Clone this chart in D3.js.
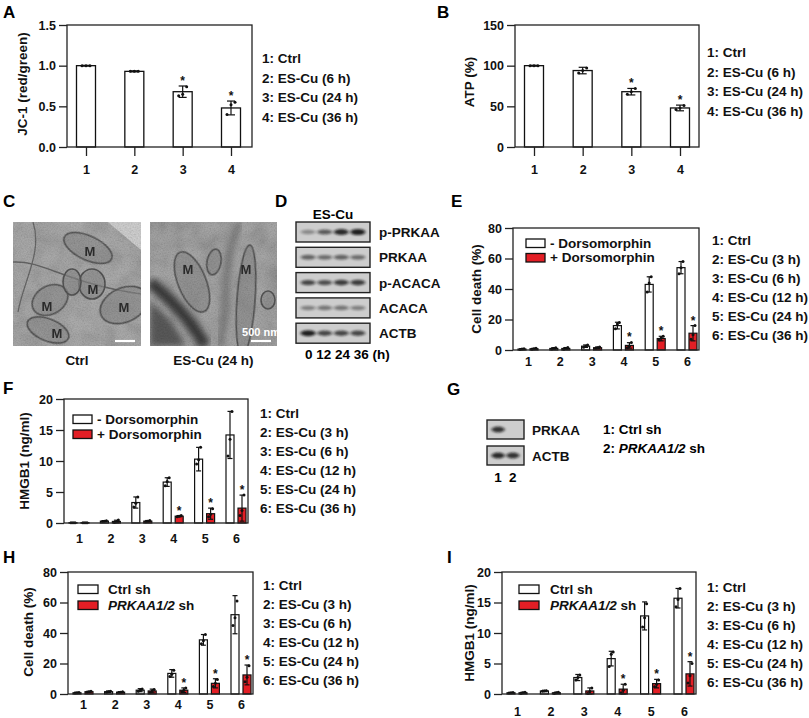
<!DOCTYPE html>
<html><head><meta charset="utf-8">
<script src="https://cdn.jsdelivr.net/npm/d3@7"></script>
<style>body{margin:0;background:#fff}</style>
</head><body>
<script>
// ================= DATA =================
const catsAB = ["1", "2", "3", "4"];
const legendAB = ["1: Ctrl", "2: ES-Cu (6 h)", "3: ES-Cu (24 h)", "4: ES-Cu (36 h)"];

const jc1Ticks = [0, 0.5, 1.0, 1.5];
const jc1Mean = [1.0, 0.93, 0.68, 0.48];
const jc1SD = [0.004, 0.006, 0.07, 0.085];
const jc1Pts = [[1, 1, 1], [0.93, 0.93, 0.93], [0.63, 0.65, 0.74], [0.40, 0.52, 0.55]];
const jc1Sig = [0, 0, 1, 1];

const atpTicks = [0, 50, 100, 150];
const atpMean = [100, 94, 68, 48];
const atpSD = [0.5, 4, 4, 3.5];
const atpPts = [[100, 100, 100], [91, 94, 97], [65, 68, 72], [46, 48, 51]];
const atpSig = [0, 0, 1, 1];

const cats6 = ["1", "2", "3", "4", "5", "6"];
const legend6 = ["1: Ctrl", "2: ES-Cu (3 h)", "3: ES-Cu (6 h)", "4: ES-Cu (12 h)", "5: ES-Cu (24 h)", "6: ES-Cu (36 h)"];
const ticks80 = [0, 20, 40, 60, 80];
const ticks20 = [0, 5, 10, 15, 20];

// E: cell death, -/+ Dorsomorphin
const eMinusMean = [0.6, 1.0, 2.5, 16, 43, 54];
const eMinusSD = [0.3, 0.5, 0.8, 2.2, 5, 4];
const eMinusPts = [[0.4, 0.6, 0.8], [0.6, 1.0, 1.4], [1.8, 2.5, 3.3], [14, 17, 18], [38, 44, 48], [50, 54, 58]];
const ePlusMean = [0.8, 1.0, 1.5, 3, 7.5, 11];
const ePlusSD = [0.3, 0.6, 0.5, 1.8, 1.5, 5];
const ePlusPts = [[0.5, 0.8, 1.1], [0.5, 1.0, 1.6], [1.0, 1.5, 2.0], [1.5, 2.5, 5], [6.5, 8, 9], [7, 10, 16]];
const ePlusSig = [0, 0, 0, 1, 1, 1];

// F: HMGB1, -/+ Dorsomorphin
const fMinusMean = [0.05, 0.3, 3.3, 6.6, 10.3, 14.2];
const fMinusSD = [0.02, 0.08, 0.9, 0.7, 1.9, 3.8];
const fMinusPts = [[0.05, 0.05, 0.05], [0.25, 0.3, 0.35], [2.6, 3.2, 4.2], [6.0, 6.7, 7.3], [9.5, 10.2, 12.2], [10.8, 13.5, 18.0]];
const fPlusMean = [0.05, 0.25, 0.3, 1.1, 1.5, 2.4];
const fPlusSD = [0.02, 0.2, 0.1, 0.1, 0.9, 2.1];
const fPlusPts = [[0.05, 0.05, 0.05], [0.1, 0.2, 0.5], [0.2, 0.3, 0.4], [1.0, 1.1, 1.2], [1.0, 1.4, 2.3], [1.2, 2.0, 4.5]];
const fPlusSig = [0, 0, 0, 1, 1, 1];

// H: cell death, Ctrl sh / PRKAA1/2 sh
const hCtrlMean = [0.8, 1.5, 2.5, 13.5, 35.5, 52];
const hCtrlSD = [0.3, 0.5, 1.0, 2.5, 3.5, 12.5];
const hCtrlPts = [[0.6, 0.8, 1.0], [1.2, 1.5, 1.8], [1.8, 2.5, 3.2], [11.5, 13, 15.5], [33, 35, 39], [45, 50, 61]];
const hShMean = [1.5, 1.2, 2.0, 2.5, 7, 12.5];
const hShSD = [0.3, 0.3, 1.2, 1.5, 3, 6.5];
const hShPts = [[1.2, 1.5, 1.8], [1.0, 1.2, 1.4], [1.0, 2.0, 3.0], [1.5, 2.5, 4], [5, 7, 9.5], [8, 11, 18.5]];
const hShSig = [0, 0, 0, 1, 1, 1];

// I: HMGB1, Ctrl sh / PRKAA1/2 sh
const iCtrlMean = [0.2, 0.5, 2.7, 5.8, 12.8, 15.7];
const iCtrlSD = [0.05, 0.1, 0.5, 1.2, 2.3, 1.6];
const iCtrlPts = [[0.15, 0.2, 0.25], [0.45, 0.5, 0.55], [2.3, 2.7, 3.1], [4.5, 6.5, 6.9], [11, 12.5, 14.8], [14.3, 15.5, 17.3]];
const iShMean = [0.2, 0.2, 0.5, 0.8, 1.7, 3.3];
const iShSD = [0.1, 0.1, 0.5, 0.8, 0.7, 2.0];
const iShPts = [[0.1, 0.2, 0.3], [0.1, 0.2, 0.3], [0.1, 0.4, 1.0], [0.2, 0.6, 1.6], [1.2, 1.6, 2.3], [1.8, 3.0, 5.0]];
const iShSig = [0, 0, 0, 1, 1, 1];

// Blots (relative band intensity per lane)
const blotDLanes = ["0", "12", "24", "36"];
const blotDLabels = ["p-PRKAA", "PRKAA", "p-ACACA", "ACACA", "ACTB"];
const blotDIntensity = [[0.35, 0.6, 0.85, 0.9], [0.55, 0.5, 0.55, 0.5], [0.7, 0.65, 0.75, 0.75], [0.4, 0.45, 0.45, 0.4], [0.9, 0.7, 0.7, 0.7]];
const blotGLanes = ["1", "2"];
const blotGLabels = ["PRKAA", "ACTB"];
const blotGIntensity = [[0.8, 0.0], [0.85, 0.8]];
const legendG = ["1: Ctrl sh", "2: PRKAA1/2 sh"];

// ================= DRAWING =================
const FONT = "'Liberation Sans', Arial, Helvetica, sans-serif";
const RED = "#e31e25";
const svg = d3.select("body").append("svg").attr("width", 809).attr("height", 718)
  .style("font-family", FONT).style("font-weight", "bold");

const defs = svg.append("defs");
const nf = defs.append("filter").attr("id", "emNoise").attr("x", 0).attr("y", 0).attr("width", "100%").attr("height", "100%");
nf.append("feTurbulence").attr("type", "fractalNoise").attr("baseFrequency", 0.7).attr("numOctaves", 3).attr("seed", 7);
nf.append("feColorMatrix").attr("type", "matrix").attr("values", "1 0 0 0 0.1  1 0 0 0 0.1  1 0 0 0 0.1  0 0 0 0 1");
const nf2 = defs.append("filter").attr("id", "emBlotch").attr("x", 0).attr("y", 0).attr("width", "100%").attr("height", "100%");
nf2.append("feTurbulence").attr("type", "fractalNoise").attr("baseFrequency", 0.06).attr("numOctaves", 2).attr("seed", 3);
nf2.append("feColorMatrix").attr("type", "matrix").attr("values", "1 0 0 0 0  1 0 0 0 0  1 0 0 0 0  0 0 0 0 1");
defs.append("filter").attr("id", "soft").append("feGaussianBlur").attr("stdDeviation", 0.7);
defs.append("filter").attr("id", "soft3").append("feGaussianBlur").attr("stdDeviation", 3);
defs.append("filter").attr("id", "bandBlur").attr("x", "-50%").attr("y", "-100%").attr("width", "200%").attr("height", "300%")
  .append("feGaussianBlur").attr("stdDeviation", "1.6 1.1");

function panelLetter(t, x, y) {
  svg.append("text").attr("x", x).attr("y", y).attr("font-size", 17).text(t);
}

function styleAxis(a, fs) {
  a.selectAll("text").attr("font-size", fs).attr("font-family", FONT).attr("font-weight", "bold").attr("fill", "#111");
  a.selectAll("line").attr("stroke", "#222").attr("stroke-width", 1.3);
}

function legendList(items, x, y0, dy) {
  svg.append("g").selectAll("text").data(items).join("text")
    .attr("x", x).attr("y", (d, i) => y0 + i * dy).attr("font-size", 13.5).attr("fill", "#111").text(d => d);
}

function yTitle(t, x, y) {
  svg.append("text").attr("transform", `translate(${x},${y}) rotate(-90)`).attr("text-anchor", "middle")
    .attr("font-size", 13.5).attr("fill", "#111").text(t);
}

function errAndPts(g, cx, y, mean, sd, pts, capW, jit, sig) {
  const top = y(mean + sd), bot = y(Math.max(0, mean - sd));
  g.append("line").attr("x1", cx).attr("x2", cx).attr("y1", top).attr("y2", bot).attr("stroke", "#111").attr("stroke-width", 1.2);
  [top, bot].forEach(yy => g.append("line").attr("x1", cx - capW / 2).attr("x2", cx + capW / 2).attr("y1", yy).attr("y2", yy)
    .attr("stroke", "#111").attr("stroke-width", 1.2));
  pts.forEach((p, k) => g.append("circle").attr("cx", cx + jit[k]).attr("cy", y(p)).attr("r", 1.5).attr("fill", "#111"));
  if (sig) {
    const ty = Math.min(top, y(d3.max(pts))) - 1;
    g.append("text").attr("x", cx).attr("y", ty).attr("text-anchor", "middle").attr("font-size", 12).attr("fill", "#111").text("*");
  }
}

function frameAndY(g, c, y) {
  g.append("rect").attr("x", c.left).attr("y", c.top).attr("width", c.right - c.left).attr("height", c.bottom - c.top)
    .attr("fill", "none").attr("stroke", "#222").attr("stroke-width", 1.3);
  const ya = g.append("g").attr("transform", `translate(${c.left},0)`)
    .call(d3.axisLeft(y).tickValues(c.ticks).tickFormat(c.fmt).tickSize(8).tickPadding(3));
  ya.select(".domain").remove();
  styleAxis(ya, 12.5);
}

function singlePanel(c) {
  const g = svg.append("g");
  const x = d3.scalePoint().domain(c.cats).range([c.left + c.padL, c.right - c.padR]);
  const y = d3.scaleLinear().domain([c.ticks[0], c.ticks[c.ticks.length - 1]]).range([c.bottom, c.top]);
  g.selectAll("rect.bar").data(c.mean).join("rect").attr("class", "bar")
    .attr("x", (d, i) => x(c.cats[i]) - c.bw / 2).attr("y", d => y(d)).attr("width", c.bw).attr("height", d => y(0) - y(d))
    .attr("fill", "#fff").attr("stroke", "#111").attr("stroke-width", 1.3);
  c.mean.forEach((m, i) => errAndPts(g, x(c.cats[i]), y, m, c.sd[i], c.pts[i], 8, [-4, 0, 4], c.sig[i]));
  frameAndY(g, c, y);
  const xa = g.append("g").attr("transform", `translate(0,${c.bottom})`).call(d3.axisBottom(x).tickSize(9).tickPadding(9));
  xa.select(".domain").remove();
  styleAxis(xa, 12.5);
  yTitle(c.yLabel, c.yTitleX, c.yTitleY);
  legendList(c.legend, c.legX, c.legY0, c.legDy);
}

function groupPanel(c) {
  const g = svg.append("g");
  const x = d3.scalePoint().domain(c.cats).range([c.left + 15, c.right - 12]);
  const y = d3.scaleLinear().domain([0, c.ticks[c.ticks.length - 1]]).range([c.bottom, c.top]);
  const bw = 8, off = 6;
  const series = [
    { mean: c.aMean, sd: c.aSD, pts: c.aPts, sig: c.aMean.map(() => 0), fill: "#fff", dx: -off },
    { mean: c.bMean, sd: c.bSD, pts: c.bPts, sig: c.bSig, fill: RED, dx: off }
  ];
  series.forEach(s => {
    g.append("g").selectAll("rect").data(s.mean).join("rect")
      .attr("x", (d, i) => x(c.cats[i]) + s.dx - bw / 2).attr("y", d => y(d)).attr("width", bw).attr("height", d => y(0) - y(d))
      .attr("fill", s.fill).attr("stroke", "#111").attr("stroke-width", 1.2);
    s.mean.forEach((m, i) => errAndPts(g, x(c.cats[i]) + s.dx, y, m, s.sd[i], s.pts[i], 5, [-2, 0, 2], s.sig[i]));
  });
  frameAndY(g, c, y);
  const xa = g.append("g").attr("transform", `translate(0,${c.bottom})`).call(d3.axisBottom(x).tickSize(0).tickPadding(c.xPad));
  xa.select(".domain").remove();
  styleAxis(xa, 12.5);
  yTitle(c.yLabel, c.yTitleX, c.yTitleY);
  legendList(legend6, c.legX, c.legY0, 19);
  const boxes = [{ fill: "#fff", y: c.lbY[0] }, { fill: RED, y: c.lbY[1] }];
  boxes.forEach((b, k) => {
    g.append("rect").attr("x", c.lbX).attr("y", b.y).attr("width", c.lbW).attr("height", 8.5)
      .attr("fill", b.fill).attr("stroke", "#111").attr("stroke-width", 1.3);
    const t = g.append("text").attr("x", c.ltX).attr("y", b.y + 8.5).attr("font-size", 13.5).attr("fill", "#111");
    const lab = c.lbLabels[k];
    if (lab.italic) { t.append("tspan").attr("font-style", "italic").text(lab.italic); t.append("tspan").text(lab.rest); }
    else t.text(lab.text);
  });
}

function blotPanel(c) {
  const g = svg.append("g");
  const lane = d3.scaleBand().domain(c.lanes).range([c.x + 3, c.x + c.w - 3]).padding(0.1);
  c.labels.forEach((lab, r) => {
    const ry = c.top + r * c.step;
    g.append("rect").attr("x", c.x).attr("y", ry).attr("width", c.w).attr("height", c.h)
      .attr("fill", "#cdcdcd").attr("stroke", "#222").attr("stroke-width", 1.4);
    c.intens[r].forEach((v, j) => {
      if (v <= 0) return;
      g.append("ellipse").attr("cx", lane(c.lanes[j]) + lane.bandwidth() / 2).attr("cy", ry + c.h / 2)
        .attr("rx", lane.bandwidth() / 2).attr("ry", 1.6 + v * 1.6).attr("fill", "#111").attr("opacity", v)
        .attr("filter", "url(#bandBlur)");
    });
    g.append("text").attr("x", c.labelX).attr("y", ry + c.h / 2 + 5).attr("font-size", 13.5).attr("fill", "#111").text(lab);
  });
  return lane;
}

// ---------- Panel A ----------
panelLetter("A", 3, 18);
singlePanel({ cats: catsAB, left: 67, right: 252, top: 25, bottom: 147, padL: 19, padR: 21, bw: 19,
  ticks: jc1Ticks, fmt: d3.format(".1f"), mean: jc1Mean, sd: jc1SD, pts: jc1Pts, sig: jc1Sig,
  yLabel: "JC-1 (red/green)", yTitleX: 27, yTitleY: 84, legend: legendAB, legX: 262, legY0: 63, legDy: 19.5 });

// ---------- Panel B ----------
panelLetter("B", 437, 18);
singlePanel({ cats: catsAB, left: 515, right: 699, top: 25, bottom: 147, padL: 19, padR: 19, bw: 19,
  ticks: atpTicks, fmt: d3.format("d"), mean: atpMean, sd: atpSD, pts: atpPts, sig: atpSig,
  yLabel: "ATP (%)", yTitleX: 474, yTitleY: 82, legend: legendAB, legX: 707, legY0: 57, legDy: 19.5 });

// ---------- Panel C (EM images, decorative) ----------
panelLetter("C", 3, 207);
const emImages = [
  { x: 13, y: 222, w: 128, h: 124, label: "Ctrl", base: "#a4a4a4" },
  { x: 150, y: 222, w: 127, h: 124, label: "ES-Cu (24 h)", base: "#9e9e9e" }
];
const emMito = [
  [{ cx: 88, cy: 248, rx: 26, ry: 12, r: 25 }, { cx: 92, cy: 284, rx: 13, ry: 15, r: 0 }, { cx: 50, cy: 300, rx: 19, ry: 14, r: -30 },
   { cx: 124, cy: 305, rx: 25, ry: 17, r: -25 }, { cx: 48, cy: 330, rx: 22, ry: 11, r: 22 }, { cx: 72, cy: 282, rx: 9, ry: 13, r: 0 }],
  [{ cx: 192, cy: 282, rx: 14, ry: 32, r: -22 }, { cx: 246, cy: 300, rx: 9, ry: 55, r: 4 }, { cx: 214, cy: 262, rx: 7, ry: 13, r: 10 },
   { cx: 268, cy: 300, rx: 7, ry: 9, r: 0 }]
];
const emM = [[[90, 256], [93, 294], [47, 311], [124, 312], [57, 338]], [[188, 274], [246, 274]]];
emImages.forEach((im, k) => {
  const cp = defs.append("clipPath").attr("id", "emclip" + k);
  cp.append("rect").attr("x", im.x).attr("y", im.y).attr("width", im.w).attr("height", im.h);
  const g = svg.append("g").attr("clip-path", `url(#emclip${k})`);
  g.append("rect").attr("x", im.x).attr("y", im.y).attr("width", im.w).attr("height", im.h).attr("fill", im.base);
  g.append("rect").attr("x", im.x).attr("y", im.y).attr("width", im.w).attr("height", im.h).attr("filter", "url(#emBlotch)").attr("opacity", 0.18);
  if (k === 0) {
    g.append("path").attr("d", `M${im.x + 95},${im.y} L${im.x + im.w},${im.y} L${im.x + im.w},${im.y + 28} Z`).attr("fill", "#d2d2d2").attr("filter", "url(#soft)");
    g.append("path").attr("d", `M${im.x},${im.y + 40} C${im.x + 30},${im.y + 38} ${im.x + 55},${im.y + 62} ${im.x + 128},${im.y + 72}`)
      .attr("fill", "none").attr("stroke", "#666").attr("stroke-width", 1.5).attr("filter", "url(#soft)");
    g.append("path").attr("d", `M${im.x + 20},${im.y} C${im.x + 30},${im.y + 30} ${im.x + 10},${im.y + 60} ${im.x + 5},${im.y + 90}`)
      .attr("fill", "none").attr("stroke", "#6a6a6a").attr("stroke-width", 1.3).attr("filter", "url(#soft)");
  } else {
    g.append("path").attr("d", `M${im.x},${im.y + 60} C${im.x + 30},${im.y + 85} ${im.x + 45},${im.y + 105} ${im.x + 55},${im.y + im.h}`)
      .attr("fill", "none").attr("stroke", "#3a3a3a").attr("stroke-width", 12).attr("filter", "url(#soft3)");
    g.append("path").attr("d", `M${im.x},${im.y + 80} C${im.x + 20},${im.y + 95} ${im.x + 30},${im.y + 110} ${im.x + 35},${im.y + im.h} L${im.x},${im.y + im.h} Z`)
      .attr("fill", "#5a5a5a").attr("filter", "url(#soft3)");
    g.append("path").attr("d", `M${im.x + 90},${im.y} C${im.x + 70},${im.y + 40} ${im.x + 80},${im.y + 80} ${im.x + 70},${im.y + im.h}`)
      .attr("fill", "none").attr("stroke", "#777").attr("stroke-width", 6).attr("filter", "url(#soft3)");
  }
  emMito[k].forEach(m => {
    g.append("ellipse").attr("cx", m.cx).attr("cy", m.cy).attr("rx", m.rx).attr("ry", m.ry)
      .attr("transform", `rotate(${m.r},${m.cx},${m.cy})`).attr("fill", "#8c8c8c").attr("fill-opacity", 0.6)
      .attr("stroke", "#555").attr("stroke-width", 1.6).attr("filter", "url(#soft)");
  });
  g.append("rect").attr("x", im.x).attr("y", im.y).attr("width", im.w).attr("height", im.h).attr("filter", "url(#emNoise)")
    .attr("opacity", 0.3).style("mix-blend-mode", "multiply");
  emM[k].forEach(p => g.append("text").attr("x", p[0]).attr("y", p[1]).attr("text-anchor", "middle").attr("font-size", 13).attr("fill", "#2a2a2a").text("M"));
  svg.append("line").attr("x1", im.x + im.w - 26).attr("x2", im.x + im.w - 6).attr("y1", im.y + im.h - 5).attr("y2", im.y + im.h - 5)
    .attr("stroke", "#fff").attr("stroke-width", 2.2);
  if (k === 1) svg.append("text").attr("x", im.x + im.w - 16).attr("y", im.y + im.h - 10).attr("text-anchor", "middle")
    .attr("font-size", 11).attr("fill", "#fff").text("500 nm");
  svg.append("text").attr("x", im.x + im.w / 2).attr("y", 365).attr("text-anchor", "middle").attr("font-size", 13.5).attr("fill", "#111").text(im.label);
});

// ---------- Panel D (blot) ----------
panelLetter("D", 275, 207);
blotPanel({ x: 296, w: 74, top: 222, h: 20, step: 25.3, lanes: blotDLanes, labels: blotDLabels, intens: blotDIntensity, labelX: 379 });
svg.append("text").attr("x", 333).attr("y", 219).attr("text-anchor", "middle").attr("font-size", 13.5).text("ES-Cu");
svg.append("text").attr("x", 305).attr("y", 359).attr("font-size", 13.5).text(blotDLanes.join(" ") + " (h)");

// ---------- Panel E ----------
panelLetter("E", 451, 207);
groupPanel({ cats: cats6, left: 513, right: 699, top: 228, bottom: 350, ticks: ticks80, fmt: d3.format("d"), xPad: 7,
  aMean: eMinusMean, aSD: eMinusSD, aPts: eMinusPts, bMean: ePlusMean, bSD: ePlusSD, bPts: ePlusPts, bSig: ePlusSig,
  yLabel: "Cell death (%)", yTitleX: 481, yTitleY: 289, legX: 712, legY0: 245,
  lbX: 526, lbW: 19, lbY: [239, 253.5], ltX: 550, lbLabels: [{ text: "- Dorsomorphin" }, { text: "+ Dorsomorphin" }] });

// ---------- Panel F ----------
panelLetter("F", 3, 394);
groupPanel({ cats: cats6, left: 64, right: 248, top: 399, bottom: 523, ticks: ticks20, fmt: d3.format("d"), xPad: 11,
  aMean: fMinusMean, aSD: fMinusSD, aPts: fMinusPts, bMean: fPlusMean, bSD: fPlusSD, bPts: fPlusPts, bSig: fPlusSig,
  yLabel: "HMGB1 (ng/ml)", yTitleX: 29, yTitleY: 461, legX: 260, legY0: 418,
  lbX: 73, lbW: 19, lbY: [415, 430], ltX: 97, lbLabels: [{ text: "- Dorsomorphin" }, { text: "+ Dorsomorphin" }] });

// ---------- Panel G ----------
panelLetter("G", 447, 395);
const laneG = blotPanel({ x: 487, w: 37, top: 420, h: 19, step: 26, lanes: blotGLanes, labels: blotGLabels, intens: blotGIntensity, labelX: 532 });
svg.append("g").selectAll("text").data(blotGLanes).join("text").attr("x", d => laneG(d) + laneG.bandwidth() / 2).attr("y", 482)
  .attr("text-anchor", "middle").attr("font-size", 13.5).text(d => d);
const lgG = svg.append("g");
lgG.append("text").attr("x", 603).attr("y", 434).attr("font-size", 13.5).text(legendG[0]);
const lg2 = lgG.append("text").attr("x", 603).attr("y", 453).attr("font-size", 13.5);
lg2.append("tspan").text("2: ");
lg2.append("tspan").attr("font-style", "italic").text("PRKAA1/2");
lg2.append("tspan").text(" sh");

// ---------- Panel H ----------
panelLetter("H", 3, 563);
groupPanel({ cats: cats6, left: 68, right: 253, top: 572, bottom: 694, ticks: ticks80, fmt: d3.format("d"), xPad: 6,
  aMean: hCtrlMean, aSD: hCtrlSD, aPts: hCtrlPts, bMean: hShMean, bSD: hShSD, bPts: hShPts, bSig: hShSig,
  yLabel: "Cell death (%)", yTitleX: 33, yTitleY: 632, legX: 263, legY0: 590,
  lbX: 78, lbW: 20, lbY: [585, 601], ltX: 108, lbLabels: [{ text: "Ctrl sh" }, { italic: "PRKAA1/2", rest: " sh" }] });

// ---------- Panel I ----------
panelLetter("I", 447, 563);
groupPanel({ cats: cats6, left: 502, right: 696, top: 572, bottom: 694, ticks: ticks20, fmt: d3.format("d"), xPad: 13,
  aMean: iCtrlMean, aSD: iCtrlSD, aPts: iCtrlPts, bMean: iShMean, bSD: iShSD, bPts: iShPts, bSig: iShSig,
  yLabel: "HMGB1 (ng/ml)", yTitleX: 474, yTitleY: 633, legX: 707, legY0: 592,
  lbX: 519, lbW: 20, lbY: [585, 601], ltX: 550, lbLabels: [{ text: "Ctrl sh" }, { italic: "PRKAA1/2", rest: " sh" }] });
</script>
</body></html>
